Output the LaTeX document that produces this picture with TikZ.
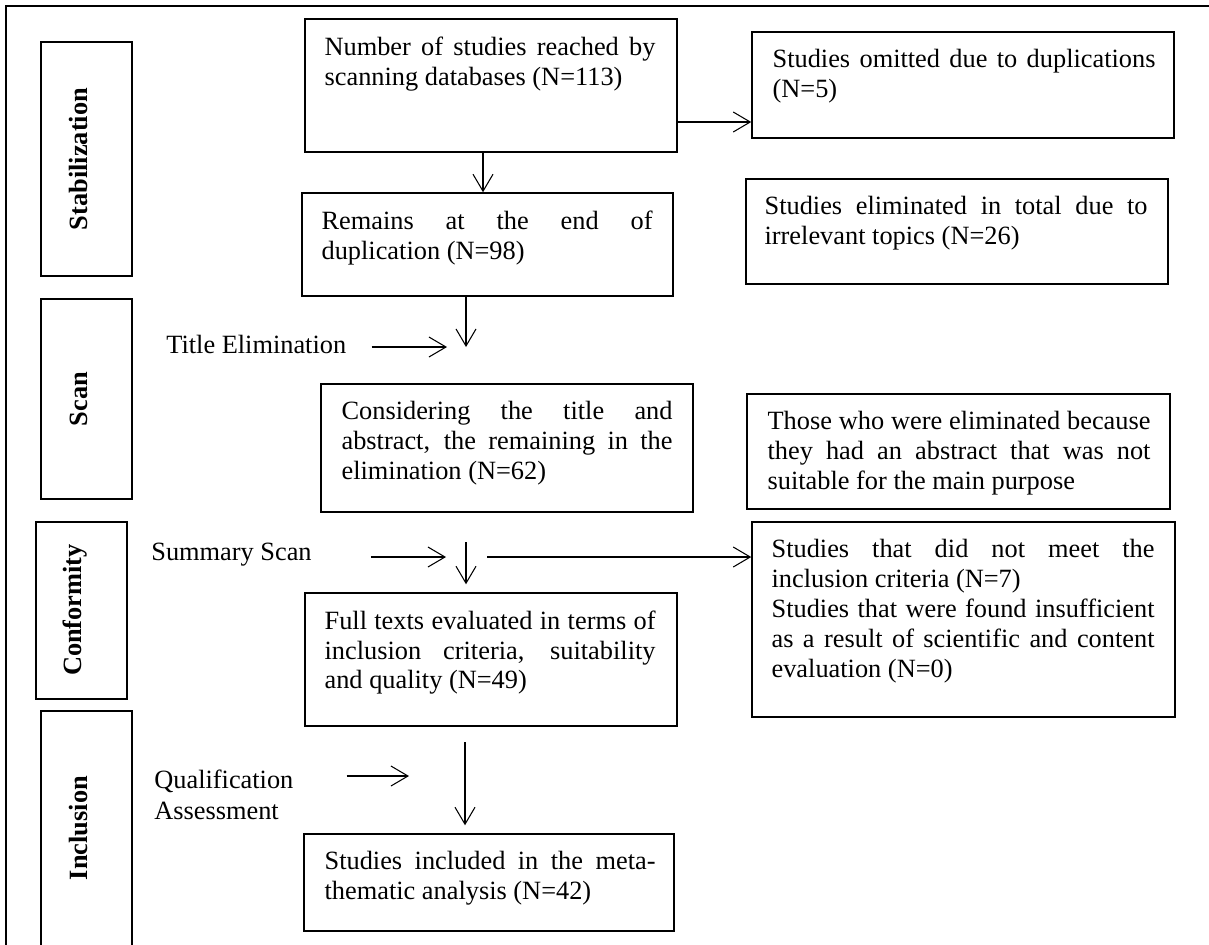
\documentclass[tikz,border=0pt]{standalone}
\usepackage{fontspec}
\setmainfont{Liberation Serif}
\usetikzlibrary{arrows.meta,fit}

\tikzset{
    box/.style={draw, line width=0.85pt, inner sep=0pt},
    txt/.style={anchor=north west, inner sep=0pt, text width=#1, align=justify,
        font=\fontsize{15}{17}\selectfont},
    lbl/.style={inner sep=0pt, font=\fontsize{15}{17.6}\selectfont},
    plabel/.style={rotate=90, inner sep=0pt, font=\fontsize{15}{17}\selectfont\bfseries},
    arr/.style={->, line width=0.6pt}
}

\begin{document}
\begin{tikzpicture}[x=0.02cm, y=-0.02cm, >={Straight Barb[length=3.4mm,width=4mm]}]
            \useasboundingbox (0,0) rectangle (1209,944);
            % Rahmen:
            \draw[line width=0.85pt] (6,990) -- (6,6) -- (1240,6);

            % Phasen links:
            \node[box, fit={(41,42) (132,276)}] (p1) {};
            \node[plabel] (p1t) at (78,159) {Stabilization};
            \node[box, fit={(41,299) (132,499)}] (p2) {};
            \node[plabel] (p2t) at (79,399) {Scan};
            \node[box, fit={(36,522) (127,699)}] (p3) {};
            \node[plabel] (p3t) at (75,610) {Conformity};
            \node[box, fit={(41,711) (132,990)}] (p4) {};
            \node[plabel] (p4t) at (79,828) {Inclusion};

            % mittlere Spalte:
            \node[box, fit={(305,19) (677,152)}] (b1) {};
            \node[txt=6.62cm] (b1t) at ([xshift=4mm,yshift=-3.6mm]b1.north west)
                {Number of studies reached by\linebreak scanning databases (N=113)};
            \node[box, fit={(302,193) (673,296)}] (b2) {};
            \node[txt=6.62cm] (b2t) at ([xshift=4mm,yshift=-3.6mm]b2.north west)
                {Remains at the end of\linebreak duplication (N=98)};
            \node[box, fit={(321,384) (693,512)}] (b3) {};
            \node[txt=6.62cm] (b3t) at ([xshift=4.2mm,yshift=-3.6mm]b3.north west)
                {Considering the title and\linebreak abstract, the remaining in the\linebreak elimination (N=62)};
            \node[box, fit={(305,593) (677,726)}] (b4) {};
            \node[txt=6.62cm] (b4t) at ([xshift=4mm,yshift=-3.6mm]b4.north west)
                {Full texts evaluated in terms of\linebreak inclusion criteria, suitability\linebreak and quality (N=49)};
            \node[box, fit={(304,834) (674,931)}] (b5) {};
            \node[txt=6.62cm] (b5t) at ([xshift=4.2mm,yshift=-3.6mm]b5.north west)
                {Studies included in the meta-\linebreak thematic analysis (N=42)};

            % rechte Spalte:
            \node[box, fit={(752,32) (1174,138)}] (r1) {};
            \node[txt=7.66cm] (r1t) at ([xshift=4.2mm,yshift=-3.6mm]r1.north west)
                {Studies omitted due to duplications\linebreak (N=5)};
            \node[box, fit={(746,179) (1168,284)}] (r2) {};
            \node[txt=7.66cm] (r2t) at ([xshift=3.8mm,yshift=-3.6mm]r2.north west)
                {Studies eliminated in total due to\linebreak irrelevant topics (N=26)};
            \node[box, fit={(747,394) (1170,509)}] (r3) {};
            \node[txt=7.66cm] (r3t) at ([xshift=4.2mm,yshift=-3.6mm]r3.north west)
                {\parfillskip=0pt Those who were eliminated because\linebreak they had an abstract that was not\linebreak suitable for the main purpose};
            \node[box, fit={(752,522) (1175,717)}] (r4) {};
            \node[txt=7.66cm] (r4t) at ([xshift=4mm,yshift=-3.6mm]r4.north west)
                {Studies that did not meet the\linebreak inclusion criteria (N=7)\\
                 Studies that were found insufficient\linebreak as a result of scientific and content\linebreak evaluation (N=0)};

            % Beschriftungen der Schritte:
            \node[lbl, anchor=base west] (ttl) at (166,353) {Title Elimination};
            \node[lbl, anchor=base west] (sum) at (151,560) {Summary Scan};
            \node[lbl, anchor=north west, align=left] (qa) at (154,770)
                {Qualification\\Assessment};

            % Pfeile:
            \draw[arr] ([xshift=-1.6mm]b1.south) -- ([xshift=-1.6mm]b1.south |- b2.north);
            \draw[arr] ([yshift=-7.3mm]b1.east) -- ([yshift=-7.3mm]b1.east -| r1.west);

            \coordinate (t1) at (447,347);
            \coordinate (t2) at (466,347);
            \draw[arr, shorten <=5mm] (ttl.east |- t1) -- (t1);
            \draw[arr] (b2.south -| t2) -- (t2);

            \coordinate (s1) at (446,557);
            \coordinate (s2) at (466,542);
            \coordinate (s4) at (487,557);
            \draw[arr, shorten <=11.8mm] (sum.east |- s1) -- (s1);
            \draw[arr, shorten >=1.6mm] (s2) -- (s2 |- b4.north);
            \draw[arr] (s4) -- (s4 -| r4.west);

            \coordinate (q1) at (409,776);
            \coordinate (q2) at (465,742);
            \draw[arr, shorten <=10.6mm] (qa.east |- q1) -- (q1);
            \draw[arr, shorten >=1.6mm] (q2) -- (q2 |- b5.north);
\end{tikzpicture}
\end{document}
